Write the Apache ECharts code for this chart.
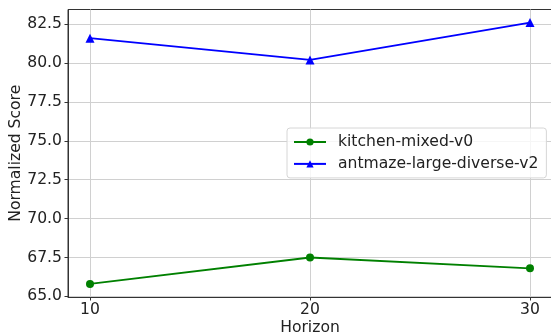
<!DOCTYPE html>
<html>
<head>
<meta charset="utf-8">
<script src="https://cdn.jsdelivr.net/npm/echarts@6/dist/echarts.min.js"></script>
<style>html,body{margin:0;padding:0;background:#fff}#c{width:551px;height:335px}</style>
</head>
<body>
<div id="c"></div>
<script>
const horizons = [10, 20, 30];
const kitchenScores = [65.8, 67.5, 66.8];
const antmazeScores = [81.6, 80.2, 82.6];
const xTicks = [10, 20, 30];
const yTicks = [65.0, 67.5, 70.0, 72.5, 75.0, 77.5, 80.0, 82.5];
const seriesNames = ['kitchen-mixed-v0', 'antmaze-large-diverse-v2'];

const font = 'DejaVu Sans';
const fs = 15.6;
const chart = echarts.init(document.getElementById('c'), null, {renderer: 'canvas'});
const pair = (xs, ys) => xs.map((x, i) => [x, ys[i]]);
chart.setOption({
  animation: false,
  backgroundColor: '#ffffff',
  grid: {left: 68, right: -1, top: 9.5, bottom: 38, containLabel: false, outerBoundsMode: 'none',
         show: true, borderColor: '#333', borderWidth: 1},
  legend: {
    orient: 'vertical', left: 287, top: 128,
    padding: [6, 8, 6, 6], itemGap: 5.9, itemWidth: 32, itemHeight: 9,
    backgroundColor: 'rgba(255,255,255,0.8)', borderColor: '#d6d6d6', borderWidth: 1, borderRadius: 3,
    textStyle: {fontFamily: font, fontSize: fs, color: '#222', padding: [0, 0, 0, 7]},
    data: seriesNames
  },
  xAxis: {
    type: 'value', min: 9, max: 31,
    name: 'Horizon', nameLocation: 'middle', nameGap: 23, nameMoveOverlap: false,
    nameTextStyle: {fontFamily: font, fontSize: fs, color: '#222'},
    axisLine: {show: true, lineStyle: {color: '#333', width: 1}},
    axisTick: {show: true, length: 3.5, customValues: xTicks, lineStyle: {color: '#333'}},
    axisLabel: {customValues: xTicks, fontFamily: font, fontSize: fs, color: '#222', margin: 5},
    splitLine: {show: true, lineStyle: {color: '#d0d0d0', width: 1}}
  },
  yAxis: {
    type: 'value', min: 64.96, max: 83.44,
    name: 'Normalized Score', nameLocation: 'middle', nameGap: 44, nameMoveOverlap: false,
    nameTextStyle: {fontFamily: font, fontSize: fs, color: '#222'},
    axisLine: {show: true, lineStyle: {color: '#333', width: 1}},
    axisTick: {show: true, length: 3.5, customValues: yTicks, lineStyle: {color: '#333'}},
    axisLabel: {customValues: yTicks, fontFamily: font, fontSize: fs, color: '#222', margin: 6,
                formatter: v => v.toFixed(1)},
    splitLine: {show: true, lineStyle: {color: '#d0d0d0', width: 1}}
  },
  series: [
    {name: seriesNames[0], type: 'line', data: pair(horizons, kitchenScores),
     color: '#008000', symbol: 'circle', symbolSize: 8,
     lineStyle: {width: 1.8, color: '#008000'}, itemStyle: {color: '#008000'}},
    {name: seriesNames[1], type: 'line', data: pair(horizons, antmazeScores),
     color: '#0000ff', symbol: 'triangle', symbolSize: 9,
     lineStyle: {width: 1.8, color: '#0000ff'}, itemStyle: {color: '#0000ff'}}
  ]
});
</script>
</body>
</html>
